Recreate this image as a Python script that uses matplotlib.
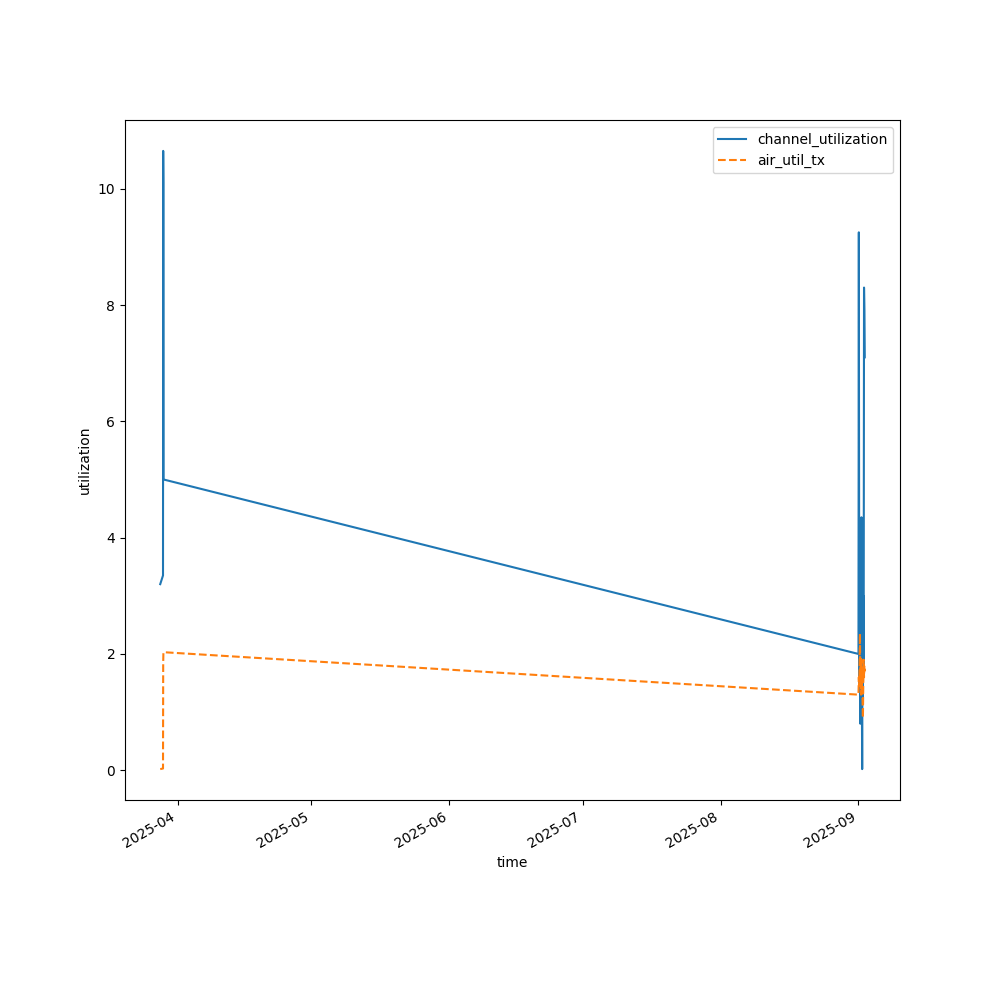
import matplotlib
matplotlib.use("Agg")
import matplotlib.pyplot as plt
import pandas as pd

times = [
    "2025-03-28 02:00", "2025-03-28 17:00", "2025-03-28 18:00", "2025-03-28 19:00", "2025-03-28 20:00",
    "2025-09-01 00:00", "2025-09-01 02:00", "2025-09-01 04:00", "2025-09-01 06:00", "2025-09-01 08:00",
    "2025-09-01 10:00", "2025-09-01 12:00", "2025-09-01 14:00", "2025-09-01 16:00", "2025-09-01 18:00",
    "2025-09-01 20:00", "2025-09-01 22:00", "2025-09-02 00:00", "2025-09-02 02:00", "2025-09-02 04:00",
    "2025-09-02 06:00", "2025-09-02 08:00", "2025-09-02 10:00",
]
channel_utilization = [
    3.2, 3.35, 10.65, 10.1, 5.0,
    2.0, 9.25, 2.5, 1.5, 3.0, 0.8, 2.2, 1.0, 4.35, 1.5, 0.02, 2.5, 1.2, 3.0, 1.8, 8.3, 7.9, 7.1,
]
air_util_tx = [
    0.02, 0.03, 1.85, 2.0, 2.03,
    1.3, 1.6, 1.45, 1.8, 2.35, 1.5, 1.95, 1.3, 1.9, 1.4, 1.7, 1.2, 0.9, 1.5, 1.9, 1.6, 1.8, 1.7,
]

t = pd.to_datetime(times)

fig, ax = plt.subplots(figsize=(10, 10), dpi=100)
ax.plot(t, channel_utilization, color="#1f77b4", linestyle="-", label="channel_utilization")
ax.plot(t, air_util_tx, color="#ff7f0e", linestyle="--", label="air_util_tx")
ax.set_xlabel("time")
ax.set_ylabel("utilization")
ax.legend(loc="upper right")
fig.autofmt_xdate()
fig.savefig("out.png", dpi=100)
